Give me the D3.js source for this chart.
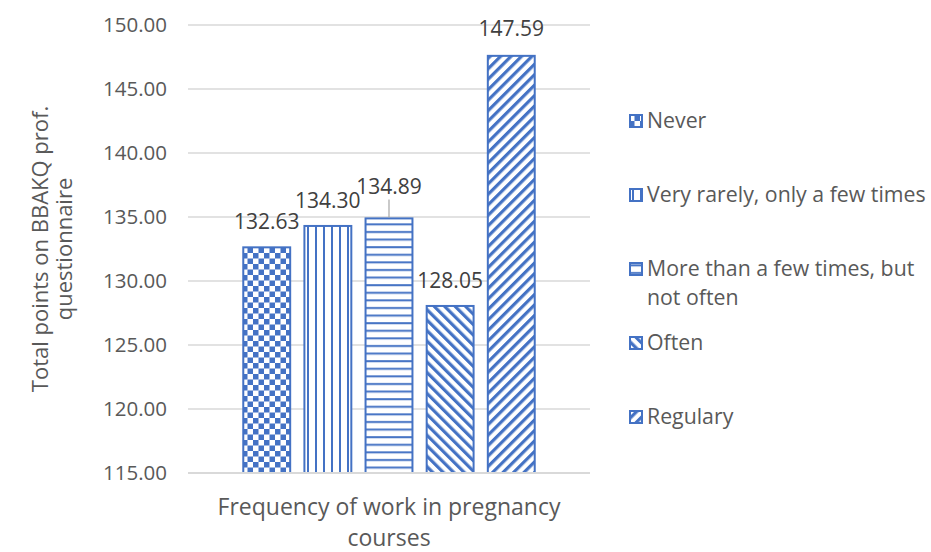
<!DOCTYPE html>
<html>
<head>
<meta charset="utf-8">
<script src="https://cdn.jsdelivr.net/npm/d3@7"></script>
<style>
  body { margin: 0; background: #fff; }
  svg { font-family: "Open Sans", sans-serif; }
</style>
</head>
<body>
<div id="chart"></div>
<script>
const categories = ["Frequency of work in pregnancy courses"];
const seriesNames = ["Never", "Very rarely, only a few times", "More than a few times, but not often", "Often", "Regulary"];
const seriesValues = [132.63, 134.30, 134.89, 128.05, 147.59];
const yTicks = [115, 120, 125, 130, 135, 140, 145, 150];

const width = 931, height = 552;
const margin = { top: 25, right: 341, bottom: 79, left: 188 };
const blue = "#4472c4";

const svg = d3.select("#chart").append("svg")
  .attr("width", width)
  .attr("height", height);

// fill patterns, one per series
const defs = svg.append("defs");

const checker = defs.append("pattern")
  .attr("id", "pat0").attr("patternUnits", "userSpaceOnUse")
  .attr("width", 11).attr("height", 11);
checker.append("rect").attr("width", 11).attr("height", 11).attr("fill", "#fff");
checker.append("rect").attr("width", 5.5).attr("height", 5.5).attr("fill", blue);
checker.append("rect").attr("x", 5.5).attr("y", 5.5).attr("width", 5.5).attr("height", 5.5).attr("fill", blue);

const vert = defs.append("pattern")
  .attr("id", "pat1").attr("patternUnits", "userSpaceOnUse")
  .attr("width", 8).attr("height", 8);
vert.append("rect").attr("width", 8).attr("height", 8).attr("fill", "#fff");
vert.append("rect").attr("x", 3).attr("width", 2).attr("height", 8).attr("fill", blue);

const horiz = defs.append("pattern")
  .attr("id", "pat2").attr("patternUnits", "userSpaceOnUse")
  .attr("width", 8).attr("height", 7.6);
horiz.append("rect").attr("width", 8).attr("height", 7.6).attr("fill", "#fff");
horiz.append("rect").attr("y", 3).attr("width", 8).attr("height", 2).attr("fill", blue);

[["pat3", -45], ["pat4", 45]].forEach(([id, ang]) => {
  const p = defs.append("pattern")
    .attr("id", id).attr("patternUnits", "userSpaceOnUse")
    .attr("width", 7.4).attr("height", 7.4)
    .attr("patternTransform", `rotate(${ang})`);
  p.append("rect").attr("width", 7.4).attr("height", 7.4).attr("fill", "#fff");
  p.append("rect").attr("width", 3.2).attr("height", 7.4).attr("fill", blue);
});

const x0 = d3.scaleBand()
  .domain(categories)
  .range([margin.left, width - margin.right])
  .paddingInner(0.27)
  .paddingOuter(0.135);

const x1 = d3.scaleBand()
  .domain(seriesNames)
  .range([0, x0.bandwidth()])
  .paddingInner(0.2);

const y = d3.scaleLinear()
  .domain([115, 150])
  .range([height - margin.bottom, margin.top]);

// gridlines
svg.append("g")
  .selectAll("line")
  .data(yTicks)
  .enter().append("line")
  .attr("x1", margin.left)
  .attr("x2", width - margin.right)
  .attr("y1", d => y(d))
  .attr("y2", d => y(d))
  .style("stroke", "#d9d9d9")
  .style("stroke-width", 1.5);

// y axis labels
const yAxis = d3.axisLeft(y).tickValues(yTicks).tickFormat(d3.format(".2f")).tickSize(0).tickPadding(21);
svg.append("g")
  .attr("transform", `translate(${margin.left},0)`)
  .call(yAxis)
  .call(g => g.select(".domain").remove())
  .selectAll("text")
  .style("font-family", "\"Open Sans\", sans-serif")
  .style("font-size", "20.5px")
  .style("fill", "#595959");

// bars
const bars = svg.append("g");
bars.selectAll("rect")
  .data(seriesValues)
  .enter().append("rect")
  .attr("x", (d, i) => x0(categories[0]) + x1(seriesNames[i]) + 1)
  .attr("y", d => y(d))
  .attr("width", x1.bandwidth() - 2)
  .attr("height", d => y(115) - y(d))
  .attr("fill", (d, i) => `url(#pat${i})`)
  .style("stroke", blue)
  .style("stroke-width", 2);

// data labels (the third one is lifted with a leader line, as in the original)
const lift = [0, 0, 6, 0, 2];
svg.append("g")
  .selectAll("text")
  .data(seriesValues)
  .enter().append("text")
  .attr("x", (d, i) => x0(categories[0]) + x1(seriesNames[i]) + x1.bandwidth() / 2)
  .attr("y", (d, i) => y(d) - 18 - lift[i])
  .attr("text-anchor", "middle")
  .style("font-size", "21px")
  .style("fill", "#404040")
  .text(d => d3.format(".2f")(d));

const li = 2;
const lx = x0(categories[0]) + x1(seriesNames[li]) + x1.bandwidth() / 2;
svg.append("line")
  .attr("x1", lx).attr("x2", lx)
  .attr("y1", y(seriesValues[li]) - 19)
  .attr("y2", y(seriesValues[li]) - 1)
  .style("stroke", "#a6a6a6")
  .style("stroke-width", 1.2);

// axis baseline
svg.append("line")
  .attr("x1", margin.left)
  .attr("x2", width - margin.right)
  .attr("y1", y(115))
  .attr("y2", y(115))
  .style("stroke", "#d9d9d9")
  .style("stroke-width", 2);

// x axis title
svg.append("text")
  .attr("x", x0(categories[0]) + x0.bandwidth() / 2)
  .attr("text-anchor", "middle")
  .style("font-size", "23px")
  .style("fill", "#595959")
  .selectAll("tspan")
  .data(["Frequency of work in pregnancy", "courses"])
  .enter().append("tspan")
  .attr("x", x0(categories[0]) + x0.bandwidth() / 2)
  .attr("y", (d, i) => 515 + i * 31)
  .text(d => d);

// y axis title
svg.append("text")
  .attr("transform", `translate(0,${(margin.top + height - margin.bottom) / 2}) rotate(-90)`)
  .attr("text-anchor", "middle")
  .style("font-size", "22px")
  .style("fill", "#595959")
  .selectAll("tspan")
  .data(["Total points on BBAKQ prof.", "questionnaire"])
  .enter().append("tspan")
  .attr("x", 0)
  .attr("y", (d, i) => 48 + i * 24)
  .text(d => d);

// legend
const legendLines = [["Never"], ["Very rarely, only a few times"], ["More than a few times, but", "not often"], ["Often"], ["Regulary"]];
const legend = svg.append("g");
const entry = legend.selectAll("g")
  .data(seriesNames)
  .enter().append("g")
  .attr("transform", (d, i) => `translate(629,${121 + i * 74})`);

entry.append("rect")
  .attr("x", 1).attr("y", -6)
  .attr("width", 12).attr("height", 12)
  .attr("fill", (d, i) => `url(#pat${i})`)
  .style("stroke", blue)
  .style("stroke-width", 2);

entry.append("text")
  .attr("x", 18)
  .style("font-size", "21.3px")
  .style("fill", "#595959")
  .selectAll("tspan")
  .data((d, i) => legendLines[i])
  .enter().append("tspan")
  .attr("x", 18)
  .attr("y", (d, i) => 7 + i * 29)
  .text(d => d);
</script>
</body>
</html>
